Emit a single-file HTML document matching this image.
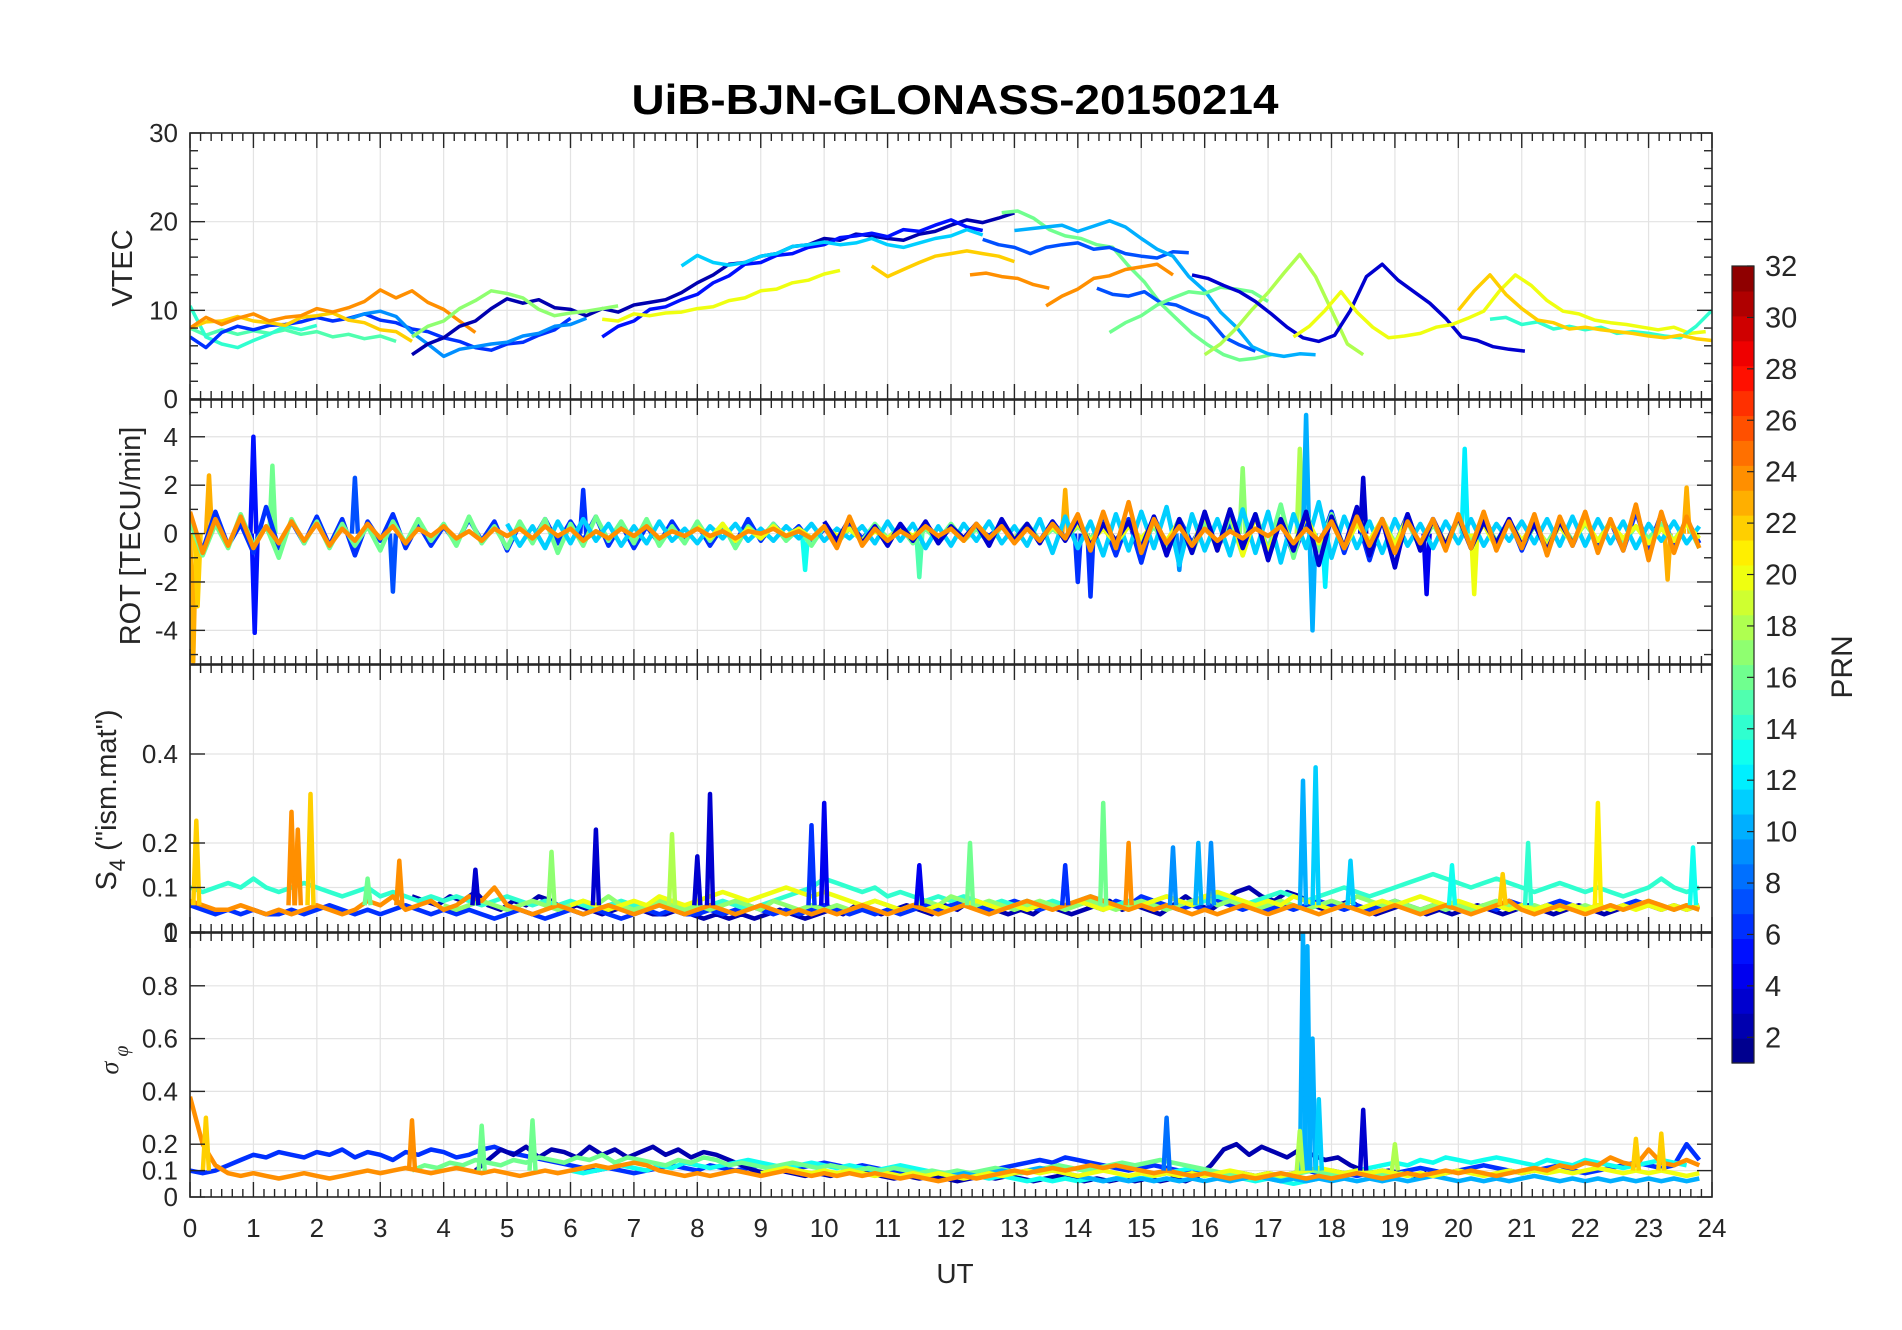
<!DOCTYPE html>
<html><head><meta charset="utf-8"><title>UiB-BJN-GLONASS-20150214</title>
<style>
html,body{margin:0;padding:0;background:#fff;}
svg{display:block;font-family:"Liberation Sans",Arial,sans-serif;}
</style></head>
<body>
<svg id="chart" width="1902" height="1330" viewBox="0 0 1902 1330" xmlns="http://www.w3.org/2000/svg">
<rect width="1902" height="1330" fill="#fff"/>
<text x="955" y="114" text-anchor="middle" font-size="42" font-weight="bold" fill="#000" textLength="647" lengthAdjust="spacingAndGlyphs">UiB-BJN-GLONASS-20150214</text>
<g id="layer"></g>
</svg>
<script>
// ---------- data ----------
const xTicks = [0,1,2,3,4,5,6,7,8,9,10,11,12,13,14,15,16,17,18,19,20,21,22,23,24];
const vtecTicks = [0,10,20,30];
const rotTicks = [-4,-2,0,2,4];
const s4Ticks = [0,0.1,0.2,0.4];
const sigTicks = [0,0.1,0.2,0.4,0.6,0.8,1];
const cbTicks = [2,4,6,8,10,12,14,16,18,20,22,24,26,28,30,32];

// VTEC tracks (step 0.25 h)
const vtecPrn   = [15,14,6,9,22,24,2,5,11,20,17,16,7,7,10,16,18,3,24,24,22,20,14,22];
const vtecStart = [0,0,0,2.5,0,0,3.5,6.5,7.75,6.5,3.5,12.8,12.5,14.3,13,14.5,16,15.8,12.3,13.5,10.75,17.4,20.5,20];
const vtecValues = [
 [8,7.2,7.8,7.3,7.7,7.4,7.8,7.3,7.6,7,7.3,6.8,7.1,6.5],
 [10.5,7,6.2,5.8,6.6,7.3,8.2,7.8,8.3],
 [7,5.8,7.5,8.2,7.8,8.3,8.4,8.7,9.2,8.8,9.1,9.6,8.9,8.6,7.9,7.6,6.9,6.5,5.8,5.5,6.2,6.4,7.2,7.8,9.1],
 [9,9.6,9.9,9.3,7.5,6.2,4.8,5.6,5.9,6.2,6.4,7.1,7.4,8.2,8.4,9.1],
 [8,8.7,8.8,9.3,8.8,8.6,8.3,9.2,9.4,9.7,8.9,8.6,7.8,7.6,6.5],
 [8,9.2,8.4,9.1,9.6,8.8,9.2,9.4,10.2,9.8,10.3,11,12.3,11.4,12.2,10.9,10.1,8.8,7.5],
 [5,6.2,6.9,8.2,8.8,10.2,11.3,10.8,11.2,10.3,10.1,9.4,10.2,9.8,10.6,10.9,11.2,12,13.1,14,15.2,15.4,16.1,16.4,17.2,17.4,18.1,17.9,18.6,18.4,18.1,17.9,18.6,18.9,19.6,20.2,19.9,20.4,21],
 [7,8.2,8.8,10.1,10.4,11.2,11.8,13.1,13.9,15.2,15.4,16.2,16.4,17.1,17.4,18.2,18.4,18.7,18.3,19.1,18.9,19.6,20.2,19.4,19],
 [15,16.2,15.4,15.1,15.4,16.1,16.4,17.2,17.4,17.7,17.4,17.6,18.1,17.4,17.1,17.6,18.1,18.4,19.1,18.5],
 [9,8.8,9.6,9.4,9.7,9.8,10.2,10.4,11.1,11.4,12.2,12.4,13.1,13.4,14.1,14.5],
 [7,8.2,8.8,10.2,11.1,12.2,11.9,11.4,10.1,9.4,9.7,9.9,10.2,10.5],
 [21,21.2,20.4,19.1,18.4,18.1,17.4,17.1,15,13.2,10.8,9.1,7.4,6.1,5,4.4,4.6,5],
 [18,17.4,17.1,16.4,17.1,17.4,17.6,16.9,17.1,16.4,16.1,15.9,16.6,16.5],
 [12.5,11.8,11.6,12.1,10.9,10.6,9.8,9.1,7,6.1,5.4],
 [19,19.2,19.4,19.6,18.9,19.5,20.1,19.4,18.1,16.9,16.1,13.8,12.2,9.8,8.1,5.9,5.1,4.8,5.1,5],
 [7.5,8.6,9.4,10.6,11.4,12.1,11.9,12.6,12.4,12.1,11],
 [5,6.2,8,10.1,12,14.2,16.3,13.8,10,6.2,5],
 [14,13.6,12.8,12.1,11,9.6,8.1,6.9,6.5,7.2,10,13.8,15.2,13.4,12.1,10.8,9.1,7,6.6,5.9,5.6,5.4],
 [14,14.2,13.8,13.6,12.9,12.5],
 [10.5,11.6,12.4,13.6,13.9,14.6,14.9,15.2,14],
 [15,13.8,14.6,15.4,16.1,16.4,16.7,16.4,16.1,15.5],
 [7,8.2,10,12.1,9.8,8.1,6.9,7.1,7.4,8.1,8.4,9.1,9.9,12.2,14,12.8,11.1,9.9,9.6,8.9,8.6,8.4,8.1,7.8,8.1,7.4,7.6,6.9,7.1,6.4,6],
 [9,9.2,8.4,8.7,7.9,8.2,7.8,8.1,7.4,7.6,7.4,7.1,6.9,8.2,10,7.9,7.5],
 [10,12.2,14,11.8,10.2,8.9,8.6,7.9,8.1,7.8,7.6,7.4,7.1,6.9,7.2,6.8,6.6,6.4,6.7,6]
];

// ROT series (step 0.2 h)
const rotPrn = [6,16,11,20,3,24];
const rotStart = [0,0,5,8,10,0];
const rotValues = [
 [0.6,-0.7,0.9,-0.5,0.4,-0.8,1.1,-0.6,0.5,-0.4,0.7,-0.5,0.6,-0.9,0.5,-0.3,0.8,-0.6,0.4,-0.5,0.3,-0.4,0.6,-0.3,0.5,-0.7,0.4,-0.3,0.6,-0.4,0.5,-0.3,0.7,-0.5,0.4,-0.6,0.3,-0.4,0.5,-0.3,0.4,-0.5,0.3,-0.4,0.6,-0.3,0.4,-0.2,0.3,-0.4,0.2,-0.3,0.4,-0.2,0.3,-0.2,0.2,-0.3,0.4,-0.2,0.3,-0.2,0.2,-0.1,0.3,-0.2,0.4,-0.3,0.5,-0.2,0.6,-0.4,0.5,-0.9,0.6,-1.2,0.7,-0.5,0.6,-0.4,0.5,-0.6,0.4,-0.5,0.8,-0.7,0.6,-0.9,0.5,-0.6,0.9,-0.8,0.7,-1.1,0.6,-0.5,0.8,-0.7,0.6,-0.5,0.7,-0.6,0.8,-0.5,0.6,-0.7,0.5,-0.8,0.6,-0.5,0.7,-0.6,0.5,-0.7,0.9,-0.6,0.8,-0.5,0.6,-0.4],
 [0.5,-0.9,0.4,-0.6,0.8,-0.5,0.3,-1.0,0.6,-0.4,0.5,-0.6,0.4,-0.5,0.3,-0.7,0.5,-0.4,0.6,-0.3,0.4,-0.5,0.7,-0.4,0.3,-0.6,0.5,-0.4,0.6,-0.8,0.4,-0.5,0.7,-0.3,0.5,-0.4,0.6,-0.5,0.3,-0.4,0.5,-0.3,0.4,-0.6,0.3,-0.2,0.4,-0.3,0.2,-0.5,0.3,-0.4,0.2,-0.3,0.4,-0.2,0.3,-0.4,0.2,-0.3,0.4,-0.3,0.2,-0.4,0.3,-0.2,0.4,-0.3,0.2,-0.2,0.3,-0.2,0.4,-0.3,0.5,-0.4,0.3,-0.5,0.6,-0.8,0.5,-0.6,0.7,-0.9,0.8,-0.7,1.2,-1.0,0.9,-0.7,0.8,-0.6,0.7,-0.5,0.6,-0.4,0.5,-0.6,0.4,-0.5,0.6,-0.4,0.5,-0.3,0.4,-0.5,0.3,-0.4,0.5,-0.3,0.4,-0.3,0.5,-0.4,0.3,-0.2,0.4,-0.3,0.5,-0.6],
 [0.4,-0.5,0.3,-0.6,0.5,-0.4,0.6,-0.3,0.4,-0.5,0.3,-0.4,0.5,-0.3,0.2,-0.4,0.3,-0.2,0.4,-0.3,0.2,-0.3,0.3,-0.2,0.4,-0.3,0.2,-0.2,0.3,-0.4,0.5,-0.3,0.4,-0.6,0.3,-0.5,0.4,-0.3,0.5,-0.4,0.3,-0.5,0.6,-0.8,0.7,-0.6,0.5,-0.9,0.8,-0.7,0.9,-0.6,1.1,-1.3,0.8,-0.7,0.6,-0.9,1.0,-0.8,0.9,-1.2,0.8,-0.6,1.3,-1.0,0.7,-0.6,0.5,-0.8,0.6,-0.5,0.4,-0.6,0.5,-0.4,0.6,-0.5,0.4,-0.3,0.5,-0.4,0.6,-0.5,0.7,-0.5,0.6,-0.4,0.5,-0.6,0.4,-0.3,0.5,-0.4,0.3],
 [0.3,-0.2,0.4,-0.3,0.2,-0.2,0.3,-0.1,0.2,-0.2,0.3,-0.1,0.2,-0.3,0.1,-0.2,0.2,-0.1,0.3,-0.2,0.2,-0.3,0.4,-0.2,0.3,-0.2,0.2,-0.3,0.3,-0.2,0.4,-0.3,0.2,-0.4,0.3,-0.2,0.4,-0.3,0.5,-0.6,0.8,-0.7,1.0,-0.9,0.7,-0.8,0.6,-0.5,0.7,-0.4,0.5,-0.6,0.4,-0.3,0.6,-0.5,0.7,-0.6,0.5,-0.4,0.6,-0.5,0.4,-0.6,0.5,-0.3,0.4,-0.5,0.3,-0.4,0.5,-0.3,0.4,-0.2,0.3,-0.4,0.2,-0.3,0.4,-0.2],
 [0.5,-0.3,0.6,-0.4,0.3,-0.5,0.4,-0.3,0.5,-0.4,0.3,-0.2,0.4,-0.5,0.6,-0.3,0.4,-0.4,0.5,-0.3,0.6,-0.5,0.4,-0.3,0.5,-0.6,0.7,-0.9,0.6,-0.8,0.9,-0.7,1.0,-0.6,0.8,-1.1,0.6,-0.7,0.9,-1.3,0.7,-0.6,1.1,-0.9,0.6,-1.4,0.8,-0.7,0.6,-0.5,0.7,-0.6,0.5,-0.4,0.6,-0.5,0.4,-0.7,0.5,-0.4],
 [0.9,-0.8,0.6,-0.5,0.7,-0.6,0.3,-0.4,0.5,-0.3,0.4,-0.5,0.2,-0.3,0.4,-0.2,0.3,-0.4,0.2,-0.1,0.3,-0.2,0.1,-0.3,0.2,-0.1,0.2,-0.2,0.3,-0.1,0.2,-0.3,0.1,-0.2,0.2,-0.1,0.3,-0.2,0.1,-0.1,0.2,-0.1,0.1,-0.2,0.1,0.0,0.2,-0.1,0.1,-0.2,0.3,-0.6,0.7,-0.5,0.2,-0.3,0.1,-0.2,0.3,-0.1,0.2,-0.3,0.4,-0.2,0.3,-0.4,0.2,-0.3,0.4,-0.2,0.8,-0.7,0.9,-0.6,1.3,-0.8,0.6,-0.4,0.3,-0.5,0.2,-0.3,0.1,-0.2,0.2,-0.1,0.3,-0.4,0.2,-0.3,0.5,-0.6,0.7,-0.5,0.6,-0.8,0.5,-0.4,0.6,-0.7,0.8,-0.6,0.9,-0.7,0.5,-0.6,0.8,-0.9,0.7,-0.5,0.9,-0.8,0.6,-0.7,1.2,-1.1,0.9,-0.8,0.7,-0.6]
];
const rotSpikeT   = [1.0,1.02,1.3,0.3,0.05,0.12,2.6,3.2,6.2,9.7,11.5,13.8,14.0,14.2,16.6,17.5,17.6,17.7,17.9,18.5,19.5,20.1,20.25,23.3,23.6,15.6];
const rotSpikeV   = [4.0,-4.1,2.8,2.4,-5.3,-3.0,2.3,-2.4,1.8,-1.5,-1.8,1.8,-2.0,-2.6,2.7,3.5,4.9,-4.0,-2.2,2.3,-2.5,3.5,-2.5,-1.9,1.9,-1.5];
const rotSpikePrn = [5,5,16,23,23,22,7,7,6,13,15,23,6,6,17,18,10,10,12,3,4,12,20,23,23,9];

// S4 baselines (step 0.2 h)
const s4Prn = [2,6,14,17,20,24];
const s4Start = [3.5,0,0,4,6,0];
const s4Values = [
 [0.08,0.07,0.06,0.08,0.07,0.09,0.06,0.05,0.07,0.06,0.08,0.07,0.05,0.06,0.05,0.04,0.05,0.06,0.05,0.04,0.04,0.05,0.04,0.03,0.04,0.03,0.04,0.03,0.04,0.05,0.04,0.03,0.04,0.05,0.04,0.06,0.05,0.04,0.05,0.06,0.05,0.04,0.06,0.05,0.07,0.06,0.05,0.04,0.05,0.04,0.06,0.05,0.04,0.05,0.06,0.07,0.05,0.06,0.05,0.04,0.06,0.08,0.06,0.05,0.07,0.09,0.1,0.08,0.07,0.09,0.08,0.06,0.05,0.06,0.07,0.05,0.04,0.05,0.06,0.05,0.04,0.05,0.04,0.05,0.06,0.05,0.04,0.05,0.06,0.05,0.04,0.05,0.06,0.05,0.04,0.05,0.06],
 [0.06,0.05,0.04,0.05,0.04,0.05,0.04,0.04,0.05,0.04,0.05,0.06,0.05,0.04,0.05,0.04,0.05,0.06,0.05,0.04,0.05,0.04,0.05,0.04,0.03,0.04,0.05,0.04,0.03,0.04,0.05,0.04,0.05,0.04,0.03,0.04,0.05,0.04,0.05,0.04,0.04,0.05,0.04,0.05,0.06,0.05,0.04,0.05,0.04,0.05,0.06,0.05,0.04,0.05,0.04,0.05,0.04,0.05,0.06,0.05,0.06,0.07,0.06,0.05,0.06,0.07,0.06,0.05,0.06,0.05,0.07,0.06,0.05,0.07,0.06,0.08,0.07,0.06,0.05,0.06,0.05,0.07,0.06,0.05,0.06,0.05,0.06,0.05,0.06,0.07,0.06,0.05,0.06,0.05,0.06,0.07,0.06,0.05,0.06,0.05,0.06,0.05,0.06,0.05,0.07,0.06,0.05,0.06,0.07,0.06,0.05,0.06,0.05,0.06,0.07,0.06,0.05,0.06,0.05,0.06],
 [0.1,0.09,0.1,0.11,0.1,0.12,0.1,0.09,0.1,0.11,0.1,0.09,0.08,0.09,0.1,0.08,0.09,0.08,0.07,0.08,0.07,0.08,0.07,0.06,0.07,0.08,0.07,0.06,0.07,0.06,0.07,0.06,0.05,0.06,0.07,0.06,0.05,0.06,0.05,0.06,0.05,0.06,0.07,0.06,0.05,0.06,0.07,0.08,0.09,0.1,0.12,0.11,0.1,0.09,0.1,0.08,0.09,0.08,0.07,0.08,0.07,0.08,0.07,0.06,0.07,0.06,0.07,0.06,0.07,0.06,0.07,0.08,0.07,0.06,0.07,0.06,0.07,0.08,0.07,0.06,0.07,0.08,0.07,0.06,0.07,0.08,0.09,0.08,0.07,0.08,0.09,0.1,0.09,0.08,0.09,0.1,0.11,0.12,0.13,0.12,0.11,0.1,0.11,0.12,0.11,0.1,0.09,0.1,0.11,0.1,0.09,0.1,0.09,0.08,0.09,0.1,0.12,0.1,0.09,0.1],
 [0.06,0.05,0.06,0.07,0.06,0.05,0.06,0.07,0.06,0.05,0.06,0.07,0.06,0.08,0.06,0.05,0.06,0.07,0.06,0.05,0.06,0.05,0.06,0.07,0.06,0.05,0.07,0.06,0.05,0.06,0.05,0.06,0.05,0.06,0.07,0.06,0.05,0.06,0.07,0.06,0.08,0.07,0.06,0.07,0.06,0.05,0.06,0.07,0.06,0.05,0.06,0.07,0.06,0.05,0.06,0.07,0.06,0.05,0.06,0.07,0.08,0.06,0.07,0.06,0.05,0.06,0.07,0.06,0.05,0.06,0.07,0.06,0.08,0.07,0.06,0.07,0.06,0.05,0.06,0.05,0.06,0.05,0.06,0.07,0.06,0.05,0.06,0.05,0.06,0.05,0.06,0.05,0.06,0.05,0.06,0.07,0.06,0.05,0.06,0.05],
 [0.06,0.07,0.06,0.05,0.06,0.07,0.06,0.08,0.07,0.06,0.07,0.08,0.09,0.08,0.07,0.08,0.09,0.1,0.09,0.08,0.09,0.08,0.07,0.06,0.07,0.06,0.05,0.06,0.05,0.06,0.05,0.06,0.07,0.06,0.05,0.06,0.05,0.06,0.05,0.06,0.07,0.06,0.05,0.06,0.05,0.06,0.07,0.08,0.07,0.06,0.08,0.09,0.08,0.07,0.06,0.07,0.06,0.08,0.07,0.06,0.05,0.06,0.05,0.06,0.07,0.06,0.07,0.08,0.07,0.06,0.07,0.06,0.05,0.06,0.05,0.06,0.05,0.06,0.05,0.06,0.05,0.06,0.05,0.06,0.05,0.06,0.05,0.06,0.05,0.06],
 [0.07,0.06,0.05,0.05,0.06,0.05,0.04,0.05,0.04,0.05,0.06,0.05,0.04,0.05,0.07,0.06,0.08,0.05,0.06,0.07,0.05,0.06,0.08,0.07,0.1,0.06,0.05,0.04,0.05,0.06,0.05,0.04,0.05,0.06,0.05,0.04,0.05,0.06,0.05,0.04,0.05,0.06,0.05,0.04,0.05,0.06,0.05,0.04,0.05,0.04,0.05,0.04,0.05,0.06,0.05,0.04,0.05,0.06,0.05,0.04,0.05,0.06,0.05,0.04,0.05,0.06,0.07,0.06,0.05,0.06,0.07,0.08,0.07,0.06,0.05,0.06,0.05,0.06,0.05,0.04,0.05,0.04,0.05,0.06,0.05,0.04,0.05,0.06,0.05,0.04,0.05,0.06,0.05,0.04,0.05,0.06,0.05,0.04,0.05,0.06,0.05,0.04,0.05,0.06,0.07,0.05,0.04,0.05,0.06,0.05,0.04,0.05,0.06,0.05,0.06,0.07,0.06,0.05,0.06,0.05]
];
const s4SpikeT   = [0.1,1.6,1.7,1.9,2.8,3.3,4.5,5.7,6.4,7.6,8.0,8.2,9.8,10.0,11.5,12.3,13.8,14.4,14.8,15.5,15.9,16.1,17.55,17.75,18.3,19.9,20.7,21.1,22.2,23.7];
const s4SpikeV   = [0.25,0.27,0.23,0.31,0.12,0.16,0.14,0.18,0.23,0.22,0.17,0.31,0.24,0.29,0.15,0.2,0.15,0.29,0.2,0.19,0.2,0.2,0.34,0.37,0.16,0.15,0.13,0.2,0.29,0.19];
const s4SpikePrn = [22,24,24,22,16,24,3,17,3,18,3,3,6,4,4,16,6,16,24,9,10,9,10,11,11,13,22,14,21,13];

// sigma-phi baselines (step 0.2 h)
const sigPrn = [6,2,13,16,10,20,24];
const sigStart = [0,4.5,6,3.5,12,9,0];
const sigValues = [
 [0.1,0.09,0.1,0.12,0.14,0.16,0.15,0.17,0.16,0.15,0.17,0.16,0.18,0.15,0.17,0.16,0.14,0.17,0.16,0.18,0.17,0.15,0.16,0.18,0.19,0.17,0.16,0.15,0.14,0.13,0.12,0.11,0.1,0.11,0.1,0.09,0.1,0.11,0.12,0.11,0.1,0.12,0.11,0.1,0.11,0.12,0.11,0.1,0.11,0.12,0.13,0.12,0.11,0.12,0.11,0.1,0.09,0.1,0.09,0.08,0.09,0.08,0.09,0.1,0.11,0.12,0.13,0.14,0.13,0.15,0.14,0.13,0.12,0.11,0.1,0.11,0.12,0.11,0.1,0.09,0.1,0.09,0.08,0.09,0.08,0.09,0.08,0.09,0.1,0.09,0.1,0.09,0.08,0.09,0.1,0.09,0.1,0.11,0.1,0.09,0.1,0.11,0.12,0.11,0.1,0.09,0.1,0.11,0.12,0.1,0.09,0.1,0.11,0.12,0.13,0.12,0.11,0.12,0.2,0.14],
 [0.1,0.14,0.18,0.16,0.19,0.15,0.18,0.17,0.15,0.19,0.16,0.18,0.15,0.17,0.19,0.16,0.18,0.15,0.17,0.16,0.14,0.12,0.1,0.09,0.1,0.09,0.08,0.09,0.08,0.09,0.1,0.09,0.08,0.07,0.08,0.07,0.08,0.07,0.06,0.07,0.08,0.07,0.08,0.07,0.06,0.07,0.08,0.07,0.06,0.07,0.06,0.07,0.06,0.07,0.06,0.07,0.06,0.08,0.12,0.18,0.2,0.16,0.19,0.17,0.15,0.18,0.16,0.14,0.15,0.12,0.1,0.09,0.1,0.09,0.08,0.09],
 [0.1,0.09,0.1,0.11,0.12,0.11,0.1,0.12,0.11,0.13,0.12,0.11,0.12,0.13,0.14,0.13,0.12,0.11,0.12,0.13,0.12,0.11,0.12,0.11,0.1,0.11,0.12,0.11,0.1,0.09,0.08,0.09,0.08,0.07,0.08,0.07,0.06,0.07,0.06,0.07,0.06,0.07,0.06,0.07,0.08,0.07,0.08,0.09,0.1,0.11,0.1,0.09,0.08,0.07,0.06,0.07,0.06,0.05,0.06,0.07,0.08,0.09,0.1,0.11,0.12,0.13,0.12,0.14,0.13,0.15,0.14,0.13,0.14,0.15,0.14,0.13,0.12,0.14,0.13,0.12,0.14,0.13,0.12,0.11,0.12,0.13,0.14,0.13,0.12],
 [0.1,0.12,0.11,0.13,0.12,0.14,0.13,0.12,0.14,0.13,0.15,0.14,0.13,0.15,0.14,0.16,0.13,0.15,0.14,0.13,0.12,0.14,0.13,0.15,0.14,0.12,0.13,0.12,0.11,0.12,0.13,0.12,0.11,0.12,0.11,0.1,0.11,0.1,0.11,0.1,0.09,0.1,0.09,0.1,0.09,0.1,0.11,0.1,0.09,0.1,0.11,0.12,0.11,0.1,0.11,0.12,0.13,0.12,0.13,0.14,0.13,0.12,0.11,0.1,0.09,0.08,0.07,0.08,0.07,0.08,0.09,0.1,0.09,0.08,0.09,0.1,0.09,0.08,0.09,0.08],
 [0.08,0.09,0.08,0.09,0.1,0.09,0.1,0.11,0.1,0.09,0.08,0.07,0.06,0.07,0.06,0.07,0.06,0.07,0.06,0.07,0.06,0.07,0.06,0.07,0.08,0.07,0.06,0.07,0.06,0.07,0.06,0.07,0.06,0.07,0.06,0.07,0.06,0.07,0.08,0.07,0.06,0.07,0.06,0.07,0.06,0.07,0.08,0.07,0.06,0.07,0.06,0.07,0.06,0.07,0.06,0.07,0.06,0.07,0.06,0.07],
 [0.09,0.1,0.11,0.1,0.09,0.1,0.09,0.1,0.09,0.08,0.09,0.08,0.09,0.08,0.09,0.08,0.07,0.08,0.09,0.08,0.09,0.1,0.09,0.1,0.09,0.08,0.09,0.1,0.09,0.08,0.09,0.08,0.09,0.08,0.09,0.08,0.09,0.1,0.09,0.08,0.09,0.08,0.09,0.1,0.11,0.1,0.09,0.1,0.09,0.1,0.09,0.08,0.09,0.08,0.09,0.1,0.09,0.08,0.09,0.1,0.09,0.1,0.09,0.1,0.09,0.1,0.11,0.1,0.09,0.1,0.09,0.1,0.09,0.08,0.09],
 [0.38,0.2,0.12,0.09,0.08,0.09,0.08,0.07,0.08,0.09,0.08,0.07,0.08,0.09,0.1,0.09,0.1,0.11,0.1,0.09,0.1,0.11,0.1,0.09,0.1,0.09,0.08,0.09,0.1,0.09,0.1,0.11,0.12,0.11,0.12,0.13,0.12,0.1,0.09,0.08,0.09,0.08,0.09,0.1,0.09,0.08,0.09,0.1,0.09,0.08,0.09,0.08,0.09,0.08,0.09,0.08,0.07,0.08,0.07,0.06,0.07,0.08,0.07,0.08,0.09,0.1,0.09,0.1,0.11,0.1,0.11,0.12,0.11,0.12,0.11,0.1,0.09,0.1,0.09,0.08,0.09,0.08,0.07,0.08,0.07,0.08,0.09,0.08,0.07,0.08,0.07,0.08,0.09,0.08,0.07,0.08,0.09,0.08,0.09,0.1,0.09,0.1,0.09,0.08,0.09,0.1,0.11,0.1,0.12,0.11,0.13,0.12,0.15,0.13,0.12,0.18,0.13,0.12,0.14,0.12]
];
const sigSpikeT   = [0.25,3.5,4.6,5.4,15.4,17.55,17.62,17.7,17.8,18.5,19.0,17.5,22.8,23.2];
const sigSpikeV   = [0.3,0.29,0.27,0.29,0.3,1.0,0.95,0.6,0.37,0.33,0.2,0.25,0.22,0.24];
const sigSpikePrn = [22,24,16,16,8,10,10,10,11,3,18,18,22,22];

// ---------- rendering ----------
const NS = "http://www.w3.org/2000/svg";
const layer = document.getElementById('layer');
const X0 = 190, X1 = 1712;
function xs(t){ return X0 + t * (X1 - X0) / 24; }
const panels = [
 {name:'vtec', top:133, bot:399, min:0, max:30, ticks:vtecTicks, minor:[2,4,6,8,12,14,16,18,22,24,26,28], lw:3.5},
 {name:'rot', top:400, bot:664, min:-5.39, max:5.52, ticks:rotTicks, minor:[-5,-3,-1,1,3,5], lw:4.5},
 {name:'s4', top:665, bot:932, min:0, max:0.6, ticks:s4Ticks, minor:[], lw:4.5},
 {name:'sigma', top:933, bot:1197, min:0, max:1, ticks:sigTicks, minor:[], lw:4.5}
];
function ys(p, v){ return p.bot - (v - p.min) * (p.bot - p.top) / (p.max - p.min); }
function jet(prn){
  const x = (prn - 0.5) / 32;
  const c = v => Math.round(255 * Math.max(0, Math.min(1, v)));
  return 'rgb(' + c(1.5 - Math.abs(4*x - 3)) + ',' + c(1.5 - Math.abs(4*x - 2)) + ',' + c(1.5 - Math.abs(4*x - 1)) + ')';
}
function mk(tag, attrs, parent){
  const e = document.createElementNS(NS, tag);
  for (const k in attrs) e.setAttribute(k, attrs[k]);
  (parent || layer).appendChild(e);
  return e;
}
const defs = mk('defs', {});
panels.forEach((p, i) => {
  const cp = mk('clipPath', {id: 'clip' + i}, defs);
  mk('rect', {x: X0, y: p.top, width: X1 - X0, height: p.bot - p.top}, cp);
});

function drawSeries(g, p, prns, starts, values, dt, tmax){
  prns.forEach((prn, i) => {
    let d = '';
    values[i].forEach((v, j) => {
      const t = starts[i] + j * dt;
      if (t > tmax) return;
      d += (d ? 'L' : 'M') + xs(t).toFixed(1) + ',' + ys(p, v).toFixed(1);
    });
    const path = mk('path', {d: d, fill: 'none', stroke: jet(prn), 'stroke-width': p.lw, 'stroke-linejoin': 'round'}, g);
    
    
  });
}
function drawSpikes(g, p, ts, vs, prns, base){
  ts.forEach((t, i) => {
    const ln = mk('path', {d: 'M' + (xs(t) - 3).toFixed(1) + ',' + ys(p, base).toFixed(1) + 'L' + xs(t).toFixed(1) + ',' + ys(p, vs[i]).toFixed(1) + 'L' + (xs(t) + 3).toFixed(1) + ',' + ys(p, base).toFixed(1), fill: 'none', stroke: jet(prns[i]), 'stroke-width': p.lw, 'stroke-linejoin': 'round'}, g);
    
    
  });
}

panels.forEach((p, i) => {
  const g = mk('g', {});
  
  
  xTicks.forEach(t => {
    if (t > 0 && t < 24) mk('line', {x1: xs(t), x2: xs(t), y1: p.top, y2: p.bot, stroke: '#e3e3e3', 'stroke-width': 1.2}, g);
  });
  p.ticks.forEach(v => {
    if (v > p.min && v < p.max) mk('line', {x1: X0, x2: X1, y1: ys(p, v), y2: ys(p, v), stroke: '#e3e3e3', 'stroke-width': 1.2}, g);
  });
  const dg = mk('g', {'clip-path': 'url(#clip' + i + ')'}, g);
  
  
  if (p.name === 'vtec') drawSeries(dg, p, vtecPrn, vtecStart, vtecValues, 0.25, 24);
  if (p.name === 'rot') { drawSpikes(dg, p, rotSpikeT, rotSpikeV, rotSpikePrn, 0); drawSeries(dg, p, rotPrn, rotStart, rotValues, 0.2, 24); }
  if (p.name === 's4') { drawSeries(dg, p, s4Prn, s4Start, s4Values, 0.2, 24); drawSpikes(dg, p, s4SpikeT, s4SpikeV, s4SpikePrn, 0.06); }
  if (p.name === 'sigma') { drawSeries(dg, p, sigPrn, sigStart, sigValues, 0.2, 24); drawSpikes(dg, p, sigSpikeT, sigSpikeV, sigSpikePrn, 0.1); }
  mk('rect', {x: X0, y: p.top, width: X1 - X0, height: p.bot - p.top, fill: 'none', stroke: '#262626', 'stroke-width': 1.6}, g);
  for (let k = 0; k <= 144; k++) {
    const t = k / 6, major = (k % 6 === 0), L = major ? 15 : 8;
    mk('line', {x1: xs(t), x2: xs(t), y1: p.bot, y2: p.bot - L, stroke: '#262626', 'stroke-width': 1.4}, g);
    mk('line', {x1: xs(t), x2: xs(t), y1: p.top, y2: p.top + L, stroke: '#262626', 'stroke-width': 1.4}, g);
  }
  p.ticks.forEach(v => {
    const y = ys(p, v);
    mk('line', {x1: X0, x2: X0 + 15, y1: y, y2: y, stroke: '#262626', 'stroke-width': 1.4}, g);
    mk('line', {x1: X1, x2: X1 - 15, y1: y, y2: y, stroke: '#262626', 'stroke-width': 1.4}, g);
    const tx = mk('text', {x: 178, y: y + 9, 'text-anchor': 'end', 'font-size': 26, fill: '#262626'}, g);
    tx.textContent = String(v);
    
    
  });
  p.minor.forEach(v => {
    const y = ys(p, v);
    mk('line', {x1: X0, x2: X0 + 8, y1: y, y2: y, stroke: '#262626', 'stroke-width': 1.4}, g);
    mk('line', {x1: X1, x2: X1 - 8, y1: y, y2: y, stroke: '#262626', 'stroke-width': 1.4}, g);
  });
});

const xg = mk('g', {});


xTicks.forEach(t => {
  const tx = mk('text', {x: xs(t), y: 1237, 'text-anchor': 'middle', 'font-size': 26, fill: '#262626'}, xg);
  tx.textContent = String(t);
  
  
});
const ut = mk('text', {x: 955, y: 1283, 'text-anchor': 'middle', 'font-size': 28, fill: '#262626'}, xg);
ut.textContent = 'UT';



function yTitle(x, y, txt, name, size){
  const t = mk('text', {x: x, y: y, 'text-anchor': 'middle', 'font-size': size, fill: '#262626', transform: 'rotate(-90 ' + x + ' ' + y + ')'});
  t.textContent = txt;
  
  
  return t;
}
yTitle(132, 268, 'VTEC', 'vtec-axis-title', 29);
yTitle(140, 536, 'ROT [TECU/min]', 'rot-axis-title', 29);
const s4t = yTitle(116, 800, '', 's4-axis-title', 29);
s4t.innerHTML = 'S<tspan dy="9" font-size="22">4</tspan><tspan dy="-9"> ("ism.mat")</tspan>';
const sgt = yTitle(118, 1060, '', 'sigma-axis-title', 26);
sgt.innerHTML = '<tspan font-family="Liberation Serif" font-style="italic">σ</tspan><tspan dy="10" font-size="20" font-family="Liberation Serif" font-style="italic"> φ</tspan>';

const cb = mk('g', {});


const CB_T = 266, CB_B = 1063, CB_L = 1732, CB_R = 1754;
function cy(v){ return CB_B - (v - 1) * (CB_B - CB_T) / 31; }
for (let k = 1; k <= 32; k++) {
  const y0 = CB_B - (k - 1) * (CB_B - CB_T) / 32, y1 = CB_B - k * (CB_B - CB_T) / 32;
  mk('rect', {x: CB_L, y: y1, width: CB_R - CB_L, height: y0 - y1 + 0.6, fill: jet(k)}, cb);
}
mk('rect', {x: CB_L, y: CB_T, width: CB_R - CB_L, height: CB_B - CB_T, fill: 'none', stroke: '#262626', 'stroke-width': 1.2}, cb);
cbTicks.forEach(v => {
  const y = cy(v);
  mk('line', {x1: CB_R, x2: CB_R - 7, y1: y, y2: y, stroke: '#262626', 'stroke-width': 1.2}, cb);
  const tx = mk('text', {x: 1765, y: y + 10, 'font-size': 29, fill: '#262626'}, cb);
  tx.textContent = String(v);
  
  
});
const prnT = mk('text', {x: 1852, y: 667, 'text-anchor': 'middle', 'font-size': 30, fill: '#262626', transform: 'rotate(-90 1852 667)'}, cb);
prnT.textContent = 'PRN';


</script>
</body></html>
